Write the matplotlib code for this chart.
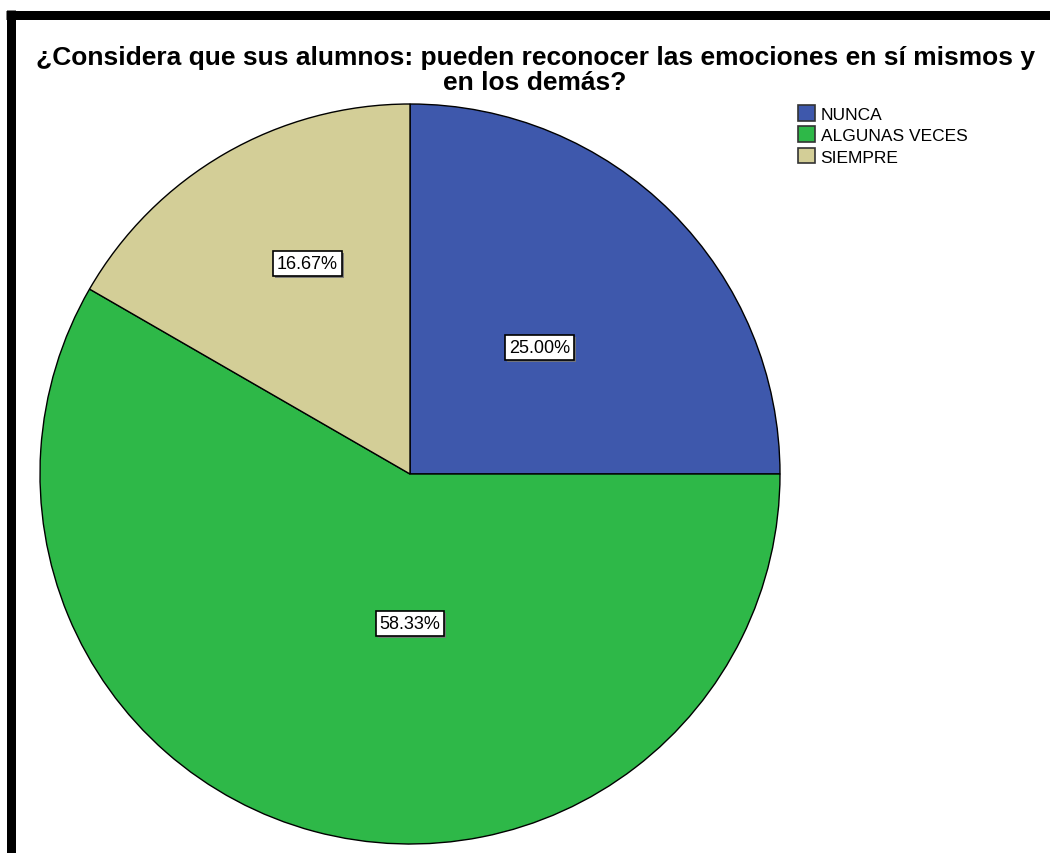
import matplotlib
matplotlib.use('Agg')
import matplotlib.pyplot as plt
import matplotlib.patheffects as pe
from matplotlib.lines import Line2D
from matplotlib.patches import Patch

plt.rcParams['font.family'] = ['Liberation Sans', 'DejaVu Sans']

categories = ['NUNCA', 'ALGUNAS VECES', 'SIEMPRE']
percentages = [25.00, 58.33, 16.67]
colors = ['#3E58AC', '#2EB848', '#D3CE97']
# label spots inside each wedge (pie radius = 1)
label_xy = [(0.351, 0.341), (0.0, -0.405), (-0.278, 0.570)]

W, H = 1050, 854
fig = plt.figure(figsize=(W / 100, H / 100), dpi=100)

# pie axes: centre (410, 475) px, radius 370 px
cx, cy, r = 410, 475, 370
ax = fig.add_axes([(cx - r) / W, (H - cy - r) / H, 2 * r / W, 2 * r / H])
ax.pie(percentages, colors=colors, startangle=90, counterclock=False,
       radius=1, wedgeprops={'edgecolor': 'black', 'linewidth': 1.0})
ax.set_xlim(-1, 1)
ax.set_ylim(-1, 1)
ax.set_aspect('equal')
ax.axis('off')

for val, (lx, ly) in zip(percentages, label_xy):
    t = ax.text(lx, ly, '%.2f%%' % val, ha='center', va='center', fontsize=13,
                bbox=dict(boxstyle='square,pad=0.22', fc='white', ec='black', lw=1.2))
    # small grey drop shadow under the box
    t.get_bbox_patch().set_path_effects([
        pe.SimplePatchShadow(offset=(1.5, -1.5), shadow_rgbFace='#777777', alpha=0.9),
        pe.Normal()])

fig.text(536 / W, 1 - 65 / H, '¿Considera que sus alumnos: pueden reconocer las emociones en sí mismos y',
         ha='center', va='baseline', fontsize=19, fontweight='bold')
fig.text(535 / W, 1 - 90 / H, 'en los demás?',
         ha='center', va='baseline', fontsize=19, fontweight='bold')

handles = [Patch(facecolor=c, edgecolor='#333333', lw=1.2) for c in colors]
fig.legend(handles, categories, loc='upper left', bbox_to_anchor=(798 / W, 1 - 106 / H),
           frameon=False, fontsize=12.5, handlelength=1.0, handleheight=1.0,
           handletextpad=0.3, labelspacing=0.27, borderpad=0, borderaxespad=0)

# black frame: left and top only (the rest is cut off)
lw = 9 * 72 / 100
fig.add_artist(Line2D([10.5 / W, 10.5 / W], [0, 1 - 11 / H], color='black', lw=lw,
                      solid_capstyle='butt', transform=fig.transFigure))
fig.add_artist(Line2D([6 / W, 1], [1 - 15.5 / H, 1 - 15.5 / H], color='black', lw=lw,
                      solid_capstyle='butt', transform=fig.transFigure))

fig.savefig('out.png', dpi=100)
